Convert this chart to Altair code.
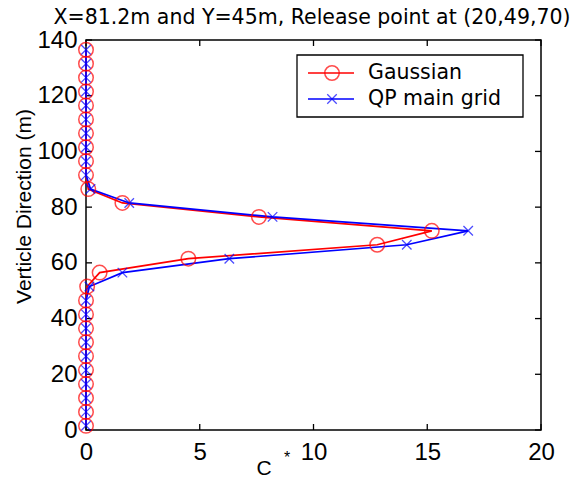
import altair as alt
import pandas as pd

# ---- data ----
heights = [1.5, 6.5, 11.5, 16.5, 21.5, 26.5, 31.5, 36.5, 41.5, 46.5,
           51.5, 56.5, 61.5, 66.5, 71.5, 76.5, 81.5, 86.5, 91.5, 96.5,
           101.5, 106.5, 111.5, 116.5, 121.5, 126.5, 131.5, 136.5]
gaussian = [0, 0, 0, 0, 0, 0, 0, 0, 0, 0,
            0.05, 0.6, 4.5, 12.8, 15.2, 7.6, 1.6, 0.1, 0, 0,
            0, 0, 0, 0, 0, 0, 0, 0]
qp_main = [0, 0, 0, 0, 0, 0, 0, 0, 0, 0,
           0.15, 1.6, 6.3, 14.1, 16.8, 8.2, 1.9, 0.2, 0, 0,
           0, 0, 0, 0, 0, 0, 0, 0]
series_names = ["Gaussian", "QP main grid"]
series_colors = ["#ff0000", "#0000ff"]
x_ticks = [0, 5, 10, 15, 20]
y_ticks = [0, 20, 40, 60, 80, 100, 120, 140]
title_text = "X=81.2m and Y=45m, Release point at (20,49,70)"
y_title = "Verticle Direction (m)"
x_title = "C"
x_title_sup = "*"

FONT = "Liberation Sans"
WIDE_FONT = "DejaVu Sans"
W, H = 455, 390

df = pd.concat([
    pd.DataFrame({"series": series_names[0], "y": heights, "c": gaussian}),
    pd.DataFrame({"series": series_names[1], "y": heights, "c": qp_main}),
])

xs = alt.Scale(domain=[0, 20], nice=False, zero=False)
ys = alt.Scale(domain=[0, 140], nice=False, zero=False)
cs = alt.Scale(domain=series_names, range=series_colors)

base = alt.Chart(df)

lines = base.mark_line(strokeWidth=1.7, clip=False).encode(
    x=alt.X("c:Q", scale=xs, axis=alt.Axis(values=x_ticks, tickSize=0, domain=False, grid=False,
                                            labelFontSize=24, labelFont=FONT, labelPadding=10,
                                            labelFlush=False, labelOverlap=False,
                                            labelColor="black", title=None)),
    y=alt.Y("y:Q", scale=ys, axis=alt.Axis(values=y_ticks, tickSize=0, domain=False, grid=False,
                                            labelFontSize=24, labelFont=FONT, labelPadding=9,
                                            labelFlush=False, labelOverlap=False,
                                            labelColor="black", title=y_title,
                                            titleFontSize=21, titleFont=FONT, titleFontWeight="normal",
                                            titleColor="black", titleX=-62, titleY=166,
                                            titleAngle=-90, titleBaseline="middle", titleAlign="center")),
    color=alt.Color("series:N", scale=cs, legend=None),
    detail="series:N",
    order=alt.Order("y:Q"),
)

circles = base.transform_filter(alt.datum.series == series_names[0]).mark_point(
    shape="circle", filled=False, size=210, strokeWidth=1.5, color=series_colors[0], clip=False
).encode(x=alt.X("c:Q", scale=xs), y=alt.Y("y:Q", scale=ys))

crosses = base.transform_filter(alt.datum.series == series_names[1]).mark_point(
    shape="M-1,-1L1,1M-1,1L1,-1", filled=False, size=90, strokeWidth=1.3, color=series_colors[1], clip=False
).encode(x=alt.X("c:Q", scale=xs), y=alt.Y("y:Q", scale=ys))

# inward ticks on all four sides
xt = alt.Chart(pd.DataFrame({"t": x_ticks}))
yt = alt.Chart(pd.DataFrame({"t": y_ticks}))
tick_bottom = xt.mark_rule(color="black", strokeWidth=1.3).encode(
    x=alt.X("t:Q", scale=xs), y=alt.value(H), y2=alt.value(H - 6))
tick_top = xt.mark_rule(color="black", strokeWidth=1.3).encode(
    x=alt.X("t:Q", scale=xs), y=alt.value(0), y2=alt.value(6))
tick_left = yt.mark_rule(color="black", strokeWidth=1.3).encode(
    y=alt.Y("t:Q", scale=ys), x=alt.value(0), x2=alt.value(6))
tick_right = yt.mark_rule(color="black", strokeWidth=1.3).encode(
    y=alt.Y("t:Q", scale=ys), x=alt.value(W), x2=alt.value(W - 6))

one = alt.Chart(pd.DataFrame({"k": [0]}))

# title and x axis title "C*"
title_mark = one.mark_text(text=title_text, fontSize=20.5, font=WIDE_FONT, color="black",
                           align="center", baseline="middle").encode(
    x=alt.value(226), y=alt.value(-22))
xlab_c = one.mark_text(text=x_title, fontSize=21, font=FONT, color="black",
                       align="center", baseline="middle").encode(
    x=alt.value(178), y=alt.value(H + 39))
xlab_star = one.mark_text(text=x_title_sup, fontSize=16, font=FONT, color="black",
                          align="center", baseline="middle").encode(
    x=alt.value(201), y=alt.value(H + 28))

# legend box
lx0, lx1, ly0, ly1 = 211, 437, 15, 77
leg_box = one.mark_rect(fill="white", stroke="black", strokeWidth=1.3).encode(
    x=alt.value(lx0), x2=alt.value(lx1), y=alt.value(ly0), y2=alt.value(ly1))
leg_layers = [leg_box]
for i, (name, col) in enumerate(zip(series_names, series_colors)):
    yy = 33 + 26 * i
    leg_layers.append(one.mark_rule(color=col, strokeWidth=1.7).encode(
        x=alt.value(222), x2=alt.value(268), y=alt.value(yy)))
    if i == 0:
        leg_layers.append(one.mark_point(shape="circle", filled=False, size=210, strokeWidth=1.5, color=col).encode(
            x=alt.value(246), y=alt.value(yy)))
    else:
        leg_layers.append(one.mark_point(shape="M-1,-1L1,1M-1,1L1,-1", filled=False, size=90,
                                         strokeWidth=1.3, color=col).encode(
            x=alt.value(246), y=alt.value(yy)))
    leg_layers.append(one.mark_text(text=name, fontSize=20.5, font=WIDE_FONT, color="black",
                                    align="left", baseline="middle").encode(
        x=alt.value(282), y=alt.value(yy)))

chart = alt.layer(
    tick_bottom, tick_top, tick_left, tick_right,
    lines, circles, crosses,
    title_mark, xlab_c, xlab_star, *leg_layers
).properties(
    width=W, height=H,
    autosize=alt.AutoSizeParams(type="none"),
    padding={"left": 86, "top": 40, "right": 33, "bottom": 50},
    background="white",
).configure_view(stroke="black", strokeWidth=1.5)

chart.save("out.html", embed_options={"renderer": "svg", "actions": False})
